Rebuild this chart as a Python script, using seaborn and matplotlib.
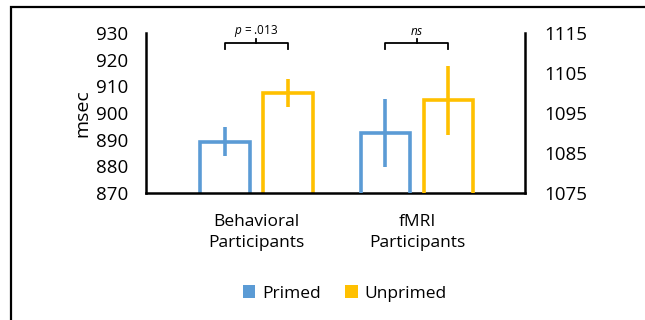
import matplotlib
matplotlib.use("Agg")
import matplotlib.pyplot as plt
from matplotlib.patches import Patch, Rectangle
import seaborn as sns
import pandas as pd

# data
groups = ['Behavioral\nParticipants', 'fMRI\nParticipants']
conditions = ['Primed', 'Unprimed']
behav_means = [889.2, 907.6]
behav_err = [5.4, 5.3]
fmri_means = [1090.0, 1098.2]
fmri_err = [8.5, 8.6]
left_ticks = [870, 880, 890, 900, 910, 920, 930]
right_ticks = [1075, 1085, 1095, 1105, 1115]
colors = ['#5B9BD5', '#FFC000']
sig_labels = [r'$\it{p}$ = .013', r'$\it{ns}$']

plt.rcParams['font.family'] = ['Open Sans', 'DejaVu Sans']
plt.rcParams['mathtext.fontset'] = 'custom'
plt.rcParams['mathtext.it'] = 'Open Sans:italic'
plt.rcParams['mathtext.rm'] = 'Open Sans'

df_b = pd.DataFrame({'group': groups[0], 'cond': conditions, 'msec': behav_means})
df_f = pd.DataFrame({'group': groups[1], 'cond': conditions, 'msec': fmri_means})

fig = plt.figure(figsize=(6.45, 3.2), dpi=100)
ax = fig.add_axes([0.2264, 0.397, 0.5876, 0.5])
ax2 = ax.twinx()

pal = dict(zip(conditions, colors))
sns.barplot(data=df_b, x='group', y='msec', hue='cond', order=groups, hue_order=conditions,
            palette=pal, fill=False, linewidth=2.6, width=0.785, gap=0.21,
            errorbar=None, legend=False, ax=ax)
sns.barplot(data=df_f, x='group', y='msec', hue='cond', order=groups, hue_order=conditions,
            palette=pal, fill=False, linewidth=2.6, width=0.785, gap=0.21,
            errorbar=None, legend=False, ax=ax2)

# error bars at the bar centres
for a, means, errs in [(ax, behav_means, behav_err), (ax2, fmri_means, fmri_err)]:
    bars = sorted(a.patches, key=lambda p: p.get_x())
    for p, m, e, c in zip(bars, means, errs, colors):
        xc = p.get_x() + p.get_width() / 2
        a.errorbar(xc, m, yerr=e, color=c, lw=2.6, capsize=0)

ax.set_ylim(870, 930)
ax.set_yticks(left_ticks)
ax2.set_ylim(1075, 1115)
ax2.set_yticks(right_ticks)
ax.set_xlim(-0.688, 1.673)

ax.set_xlabel('')
ax2.set_xlabel('')
ax2.set_ylabel('')
ax.set_ylabel('msec', fontsize=14, labelpad=3)

ax.tick_params(axis='y', length=0, pad=13, labelsize=13.5)
ax2.tick_params(axis='y', length=0, pad=14, labelsize=13.5)
ax.tick_params(axis='x', length=0, pad=15, labelsize=12.5)
for lab in ax.get_xticklabels():
    lab.set_linespacing(1.4)

for s in ['top', 'right']:
    ax.spines[s].set_visible(False)
for s in ['top', 'left', 'bottom']:
    ax2.spines[s].set_visible(False)
ax.spines['left'].set_linewidth(1.8)
ax.spines['bottom'].set_linewidth(1.8)
ax2.spines['right'].set_linewidth(1.8)

# significance brackets
for a, lab in [(ax, sig_labels[0]), (ax2, sig_labels[1])]:
    xs = sorted(p.get_x() + p.get_width() / 2 for p in a.patches)
    x0, x1 = xs[0], xs[-1]
    xm = (x0 + x1) / 2
    tr = a.get_xaxis_transform()
    a.plot([x0, x0, x1, x1], [0.9, 0.9375, 0.9375, 0.9], color='black', lw=1.3,
           transform=tr, clip_on=False)
    a.plot([xm, xm], [0.9375, 0.962], color='black', lw=1.3, transform=tr, clip_on=False)
    a.text(xm, 1.01, lab, ha='center', va='center', fontsize=8.5, transform=tr)

handles = [Patch(facecolor=c, edgecolor='none') for c in colors]
fig.legend(handles, conditions, loc='center', bbox_to_anchor=(0.535, 0.083), ncol=2,
           frameon=False, fontsize=12.5, handlelength=0.7, handleheight=0.7,
           handletextpad=0.4, columnspacing=1.4)

# outer chart frame (partially cropped)
fig.patches.append(Rectangle((11 / 645, -0.1), 1.2, 1 - 7 / 320 + 0.1, transform=fig.transFigure,
                             fill=False, edgecolor='black', lw=1.6))

fig.savefig('out.png', dpi=100)
